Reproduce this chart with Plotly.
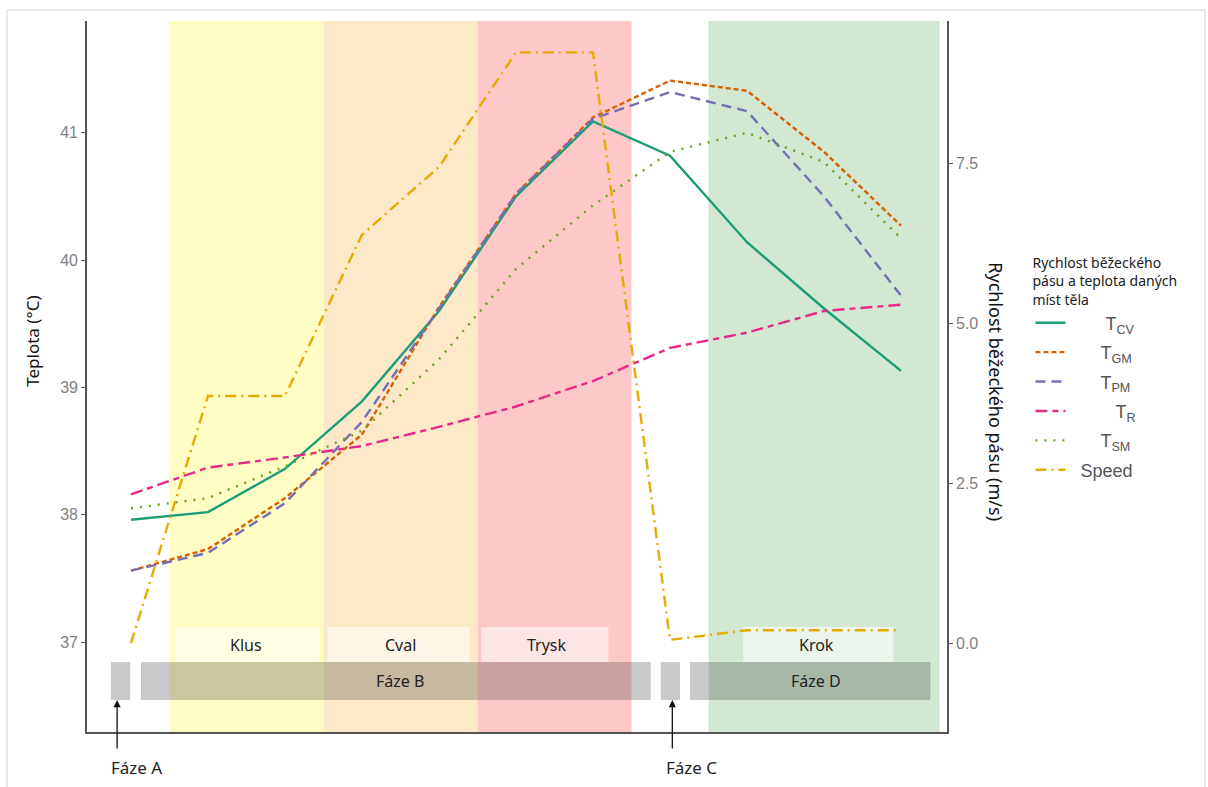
import plotly.graph_objects as go

# ---------------- data ----------------
time_idx = [0, 1, 2, 3, 4, 5, 6, 7, 8, 9, 10]
T_CV = [37.96, 38.02, 38.36, 38.89, 39.60, 40.50, 41.09, 40.82, 40.14, 39.62, 39.13]
T_GM = [37.56, 37.73, 38.13, 38.63, 39.63, 40.52, 41.12, 41.41, 41.33, 40.85, 40.27]
T_PM = [37.56, 37.70, 38.09, 38.73, 39.62, 40.52, 41.11, 41.32, 41.17, 40.50, 39.72]
T_R = [38.16, 38.37, 38.45, 38.54, 38.69, 38.85, 39.05, 39.31, 39.43, 39.60, 39.65]
T_SM = [38.05, 38.13, 38.38, 38.66, 39.22, 39.93, 40.43, 40.85, 41.00, 40.77, 40.17]
speed = [0.0, 3.86, 3.86, 6.38, 7.44, 9.23, 9.23, 0.05, 0.2, 0.2, 0.2]

series_names = ["T<sub>CV</sub>", "T<sub>GM</sub>", "T<sub>PM</sub>", "T<sub>R</sub>", "T<sub>SM</sub>"]
series_pad = [7, 6, 6, 9, 6]
series_vals = [T_CV, T_GM, T_PM, T_R, T_SM]
speed_name = "Speed"
speed_pad = 2

# gait bands (start, end in time index units)
band_labels = ["Klus", "Cval", "Trysk", "Krok"]
band_start = [0.5, 2.5, 4.5, 7.5]
band_end = [2.5, 4.5, 6.5, 10.5]
label_box_start = [0.58, 2.55, 4.55, 7.95]
label_box_end = [2.45, 4.4, 6.2, 9.9]
label_center = [1.5, 3.5, 5.4, 8.9]

# phase bars
phase_labels = ["", "Fáze B", "", "Fáze D"]
phase_start = [-0.26, 0.13, 6.88, 7.26]
phase_end = [-0.01, 6.75, 7.13, 10.38]
phase_center = [None, 3.5, None, 8.9]

# arrows for phases A and C
arrow_labels = ["Fáze A", "Fáze C"]
arrow_x = [-0.18, 7.03]

# ---------------- style ----------------
colors = ["#1B9E77", "#D95F02", "#7570B3", "#E7298A", "#66A61E", "#E6AB02"]
dashes = ["solid", "5px,3px", "10px,6px", "12px,5px,6px,5px", "2px,7px", "11px,5px,2px,5px"]
band_colors = ["rgba(255,252,196,1)", "rgba(253,232,200,1)", "rgba(255,200,200,1)", "rgba(210,232,210,1)"]

fig = go.Figure()

for i, (nm, vals) in enumerate(zip(series_names, series_vals)):
    fig.add_trace(go.Scatter(
        x=time_idx, y=vals, mode="lines",
        name="\u00a0" * series_pad[i] + nm,
        line=dict(color=colors[i], width=2.4, dash=dashes[i]),
        yaxis="y", legendgroup=str(i),
    ))

fig.add_trace(go.Scatter(
    x=time_idx, y=speed, mode="lines", name="\u00a0" * speed_pad + speed_name,
    line=dict(color=colors[5], width=2.4, dash=dashes[5]),
    yaxis="y2", legendgroup="5",
))

shapes = []
for s, e, c in zip(band_start, band_end, band_colors):
    shapes.append(dict(type="rect", xref="x", yref="paper", x0=s, x1=e, y0=0, y1=1,
                       fillcolor=c, line=dict(width=0), layer="below"))
for s, e in zip(label_box_start, label_box_end):
    shapes.append(dict(type="rect", xref="x", yref="y", x0=s, x1=e, y0=36.843, y1=37.118,
                       fillcolor="rgba(255,255,255,0.55)", line=dict(width=0), layer="below"))
for s, e in zip(phase_start, phase_end):
    shapes.append(dict(type="rect", xref="x", yref="y", x0=s, x1=e, y0=36.544, y1=36.843,
                       fillcolor="rgba(55,55,55,0.27)", line=dict(width=0), layer="below"))
# outer frame
shapes.append(dict(type="rect", xref="paper", yref="paper", x0=-0.093, x1=1.3, y0=-0.08, y1=1.0155,
                   line=dict(color="#d4d4d4", width=1), fillcolor="rgba(0,0,0,0)", layer="below"))

annotations = []
txt_font = dict(family="Noto Sans, Open Sans, sans-serif", size=16, color="#222222")
for lab, cx in zip(band_labels, label_center):
    annotations.append(dict(x=cx, y=36.98, xref="x", yref="y", text=lab, showarrow=False, font=txt_font))
for lab, cx in zip(phase_labels, phase_center):
    if lab:
        annotations.append(dict(x=cx, y=36.69, xref="x", yref="y", text=lab, showarrow=False, font=txt_font))
for lab, ax_ in zip(arrow_labels, arrow_x):
    annotations.append(dict(x=ax_, y=36.544, xref="x", yref="y", text="", showarrow=True,
                            ax=0, ay=50, arrowhead=2, arrowsize=1.1, arrowwidth=1.3, arrowcolor="#111111"))
    annotations.append(dict(x=ax_ + 0.25, y=-0.05, xref="x", yref="paper", text=lab, showarrow=False,
                            yanchor="middle", font=dict(family="Noto Sans, sans-serif", size=17, color="#222222")))

annotations.append(dict(x=-0.063, y=0.55, xref="paper", yref="paper", text="Teplota (°C)",
                        textangle=-90, showarrow=False, xanchor="center", yanchor="middle",
                        font=dict(family="Noto Sans, sans-serif", size=17, color="#111111")))
annotations.append(dict(x=1.056, y=0.479, xref="paper", yref="paper", text="Rychlost běžeckého pásu (m/s)",
                        textangle=90, showarrow=False, xanchor="center", yanchor="middle",
                        font=dict(family="Noto Sans, sans-serif", size=18, color="#111111")))

fig.update_layout(
    width=1208, height=787,
    margin=dict(l=87, r=261, t=21, b=55),
    paper_bgcolor="white", plot_bgcolor="white",
    showlegend=True,
    legend=dict(
        x=1.097, y=0.678, xanchor="left", yanchor="top",
        title=dict(text="Rychlost běžeckého<br>pásu a teplota daných<br>míst těla",
                   font=dict(family="Noto Sans, sans-serif", size=14, color="#222222")),
        font=dict(family="Liberation Sans, Arial, sans-serif", size=18, color="#555555"),
        tracegroupgap=3, itemwidth=30, bgcolor="rgba(0,0,0,0)",
    ),
    xaxis=dict(range=[-0.571, 10.597], showgrid=False, zeroline=False, showticklabels=False,
               ticks="", showline=True, linecolor="#555555", linewidth=1.6),
    yaxis=dict(range=[36.293, 41.878], tickvals=[37, 38, 39, 40, 41], showgrid=False, zeroline=False,
               ticks="outside", ticklen=4, tickcolor="#555555", showline=True, linecolor="#555555",
               linewidth=1.6, tickfont=dict(family="Liberation Sans, Arial, sans-serif", size=16, color="#808080")),
    yaxis2=dict(range=[-1.39, 9.72], tickvals=[0, 2.5, 5, 7.5], tickformat=".1f", overlaying="y", side="right",
                showgrid=False, zeroline=False, ticks="outside", ticklen=4, tickcolor="#555555",
                showline=True, linecolor="#555555", linewidth=1.6,
                tickfont=dict(family="Liberation Sans, Arial, sans-serif", size=16, color="#808080")),
    shapes=shapes, annotations=annotations,
)

fig.write_html("out.html")
